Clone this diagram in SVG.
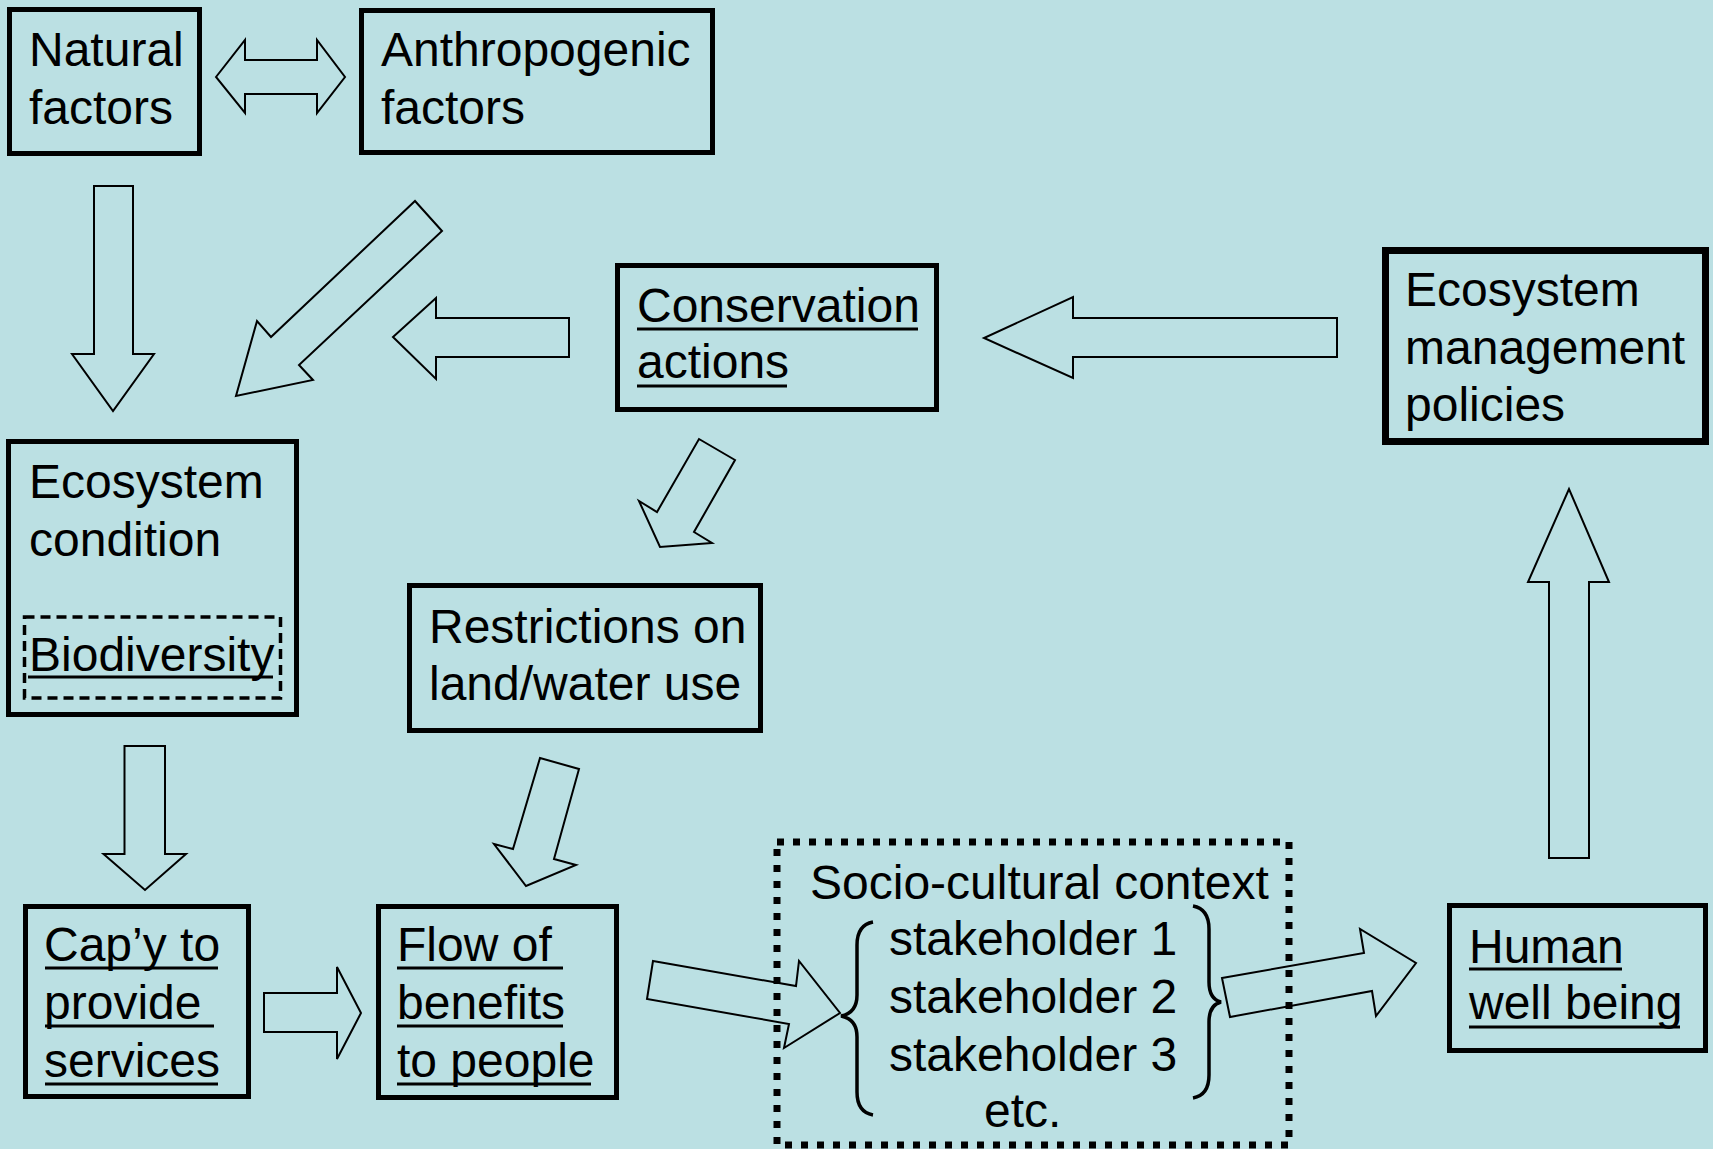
<svg xmlns="http://www.w3.org/2000/svg" width="1713" height="1149" viewBox="0 0 1713 1149">
<style>
.box{fill:none;stroke:#000;stroke-width:5}
.thick{stroke-width:7}
.t{font-family:"Liberation Sans",Arial,sans-serif;font-size:48px;fill:#000}
.ul{stroke:#000;stroke-width:3}
.arr{fill:none;stroke:#000;stroke-width:2;stroke-linejoin:miter}
.brace{fill:none;stroke:#000;stroke-width:3.5}
</style>
<rect width="1713" height="1149" fill="#BBE0E3"/>

<g id="natural">
<rect class="box" x="9.5" y="9.5" width="190" height="144"/>
<text class="t" x="29" y="66">Natural</text>
<text class="t" x="29" y="124">factors</text>
</g>

<g id="anthropogenic">
<rect class="box" x="361.5" y="10.5" width="351" height="142"/>
<text class="t" x="381" y="66">Anthropogenic</text>
<text class="t" x="381" y="124">factors</text>
</g>

<g id="conservation">
<rect class="box" x="617.5" y="265.5" width="319" height="144"/>
<text class="t" x="637" y="322">Conservation</text>
<text class="t" x="637" y="378">actions</text>
<line class="ul" x1="637" y1="329" x2="918" y2="329"/>
<line class="ul" x1="637" y1="386" x2="787" y2="386"/>
</g>

<g id="ecosystem-management">
<rect class="box thick" x="1385.5" y="250.5" width="320" height="191"/>
<text class="t" x="1405" y="306">Ecosystem</text>
<text class="t" x="1405" y="364">management</text>
<text class="t" x="1405" y="421">policies</text>
</g>

<g id="ecosystem-condition">
<rect class="box" x="8.5" y="441.5" width="288" height="273"/>
<text class="t" x="29" y="498">Ecosystem</text>
<text class="t" x="29" y="556">condition</text>
<rect x="24.5" y="617" width="256" height="81" fill="none" stroke="#000" stroke-width="3.5" stroke-dasharray="10 6"/>
<text class="t" x="29" y="671">Biodiversity</text>
<line class="ul" x1="28" y1="677" x2="273" y2="677"/>
</g>

<g id="restrictions">
<rect class="box" x="409.5" y="585.5" width="351" height="145"/>
<text class="t" x="429" y="643">Restrictions on</text>
<text class="t" x="429" y="700">land/water use</text>
</g>

<g id="capacity">
<rect class="box" x="25.5" y="906.5" width="223" height="190"/>
<text class="t" x="44" y="961">Cap’y to</text>
<text class="t" x="44" y="1019">provide </text>
<text class="t" x="44" y="1077">services</text>
<line class="ul" x1="45" y1="968" x2="218" y2="968"/>
<line class="ul" x1="45" y1="1026" x2="214" y2="1026"/>
<line class="ul" x1="45" y1="1084" x2="218" y2="1084"/>
</g>

<g id="flow">
<rect class="box" x="378.5" y="906.5" width="238" height="191"/>
<text class="t" x="397" y="961">Flow of </text>
<text class="t" x="397" y="1019">benefits</text>
<text class="t" x="397" y="1077">to people</text>
<line class="ul" x1="397" y1="968" x2="563" y2="968"/>
<line class="ul" x1="397" y1="1026" x2="563" y2="1026"/>
<line class="ul" x1="397" y1="1084" x2="591" y2="1084"/>
</g>

<g id="socio-cultural">
<rect x="777" y="842" width="512" height="303" fill="none" stroke="#000" stroke-width="7" stroke-dasharray="7 9"/>
<text class="t" x="810" y="899">Socio-cultural context</text>
<text class="t" x="889" y="955">stakeholder 1</text>
<text class="t" x="889" y="1013">stakeholder 2</text>
<text class="t" x="889" y="1071">stakeholder 3</text>
<text class="t" x="984" y="1127">etc.</text>
<path class="brace" d="M873,922 Q857,925 857,945 L857,995 Q857,1013 841,1016 Q857,1019 857,1037 L857,1092 Q857,1112 873,1115"/>
<path class="brace" d="M1193,906 Q1209,909 1209,929 L1209,982 Q1209,999 1221,1002 Q1209,1005 1209,1022 L1209,1075 Q1209,1095 1193,1098"/>
</g>

<g id="human-well-being">
<rect class="box" x="1449.5" y="905.5" width="256" height="145"/>
<text class="t" x="1469" y="963">Human</text>
<text class="t" x="1469" y="1019">well being</text>
<line class="ul" x1="1469" y1="969" x2="1622" y2="969"/>
<line class="ul" x1="1469" y1="1027" x2="1680" y2="1027"/>
</g>

<g id="connectors">
<polygon class="arr" points="216,77 245,40 245,60 317,60 317,40 345,77 317,113 317,94 245,94 245,113"/>
<polygon class="arr" points="94,186 133,186 133,354 154,354 113,411 72,354 94,354"/>
<polygon class="arr" points="415,201 442,231 299,365 313,380 236,396 257,321 271,337"/>
<polygon class="arr" points="569,318 569,357 436,357 436,379 393,337 436,298 436,318"/>
<polygon class="arr" points="1337,318 1337,357 1073,357 1073,378 984,338 1073,297 1073,318"/>
<polygon class="arr" points="699,439 735,460 694,532 712,543 660,547 639,501 657,512"/>
<polygon class="arr" points="124.5,746 165,746 165,854 186,854 145,890 103.5,854 124.5,854"/>
<polygon class="arr" points="540,758 579,769 554,859 576,865 526,886 494,844 513,849"/>
<polygon class="arr" points="264,993 337,993 337,967 361,1013 337,1059 337,1032 264,1032"/>
<polygon class="arr" points="653,961 796,986 799,961 840,1013 784,1048 789,1024 647,999"/>
<polygon class="arr" points="1222,978 1364,953 1360,929 1416,963 1376,1016 1372,991 1230,1017"/>
<polygon class="arr" points="1549,858 1589,858 1589,582 1609,582 1569,489 1528,582 1549,582"/>
</g>
</svg>
